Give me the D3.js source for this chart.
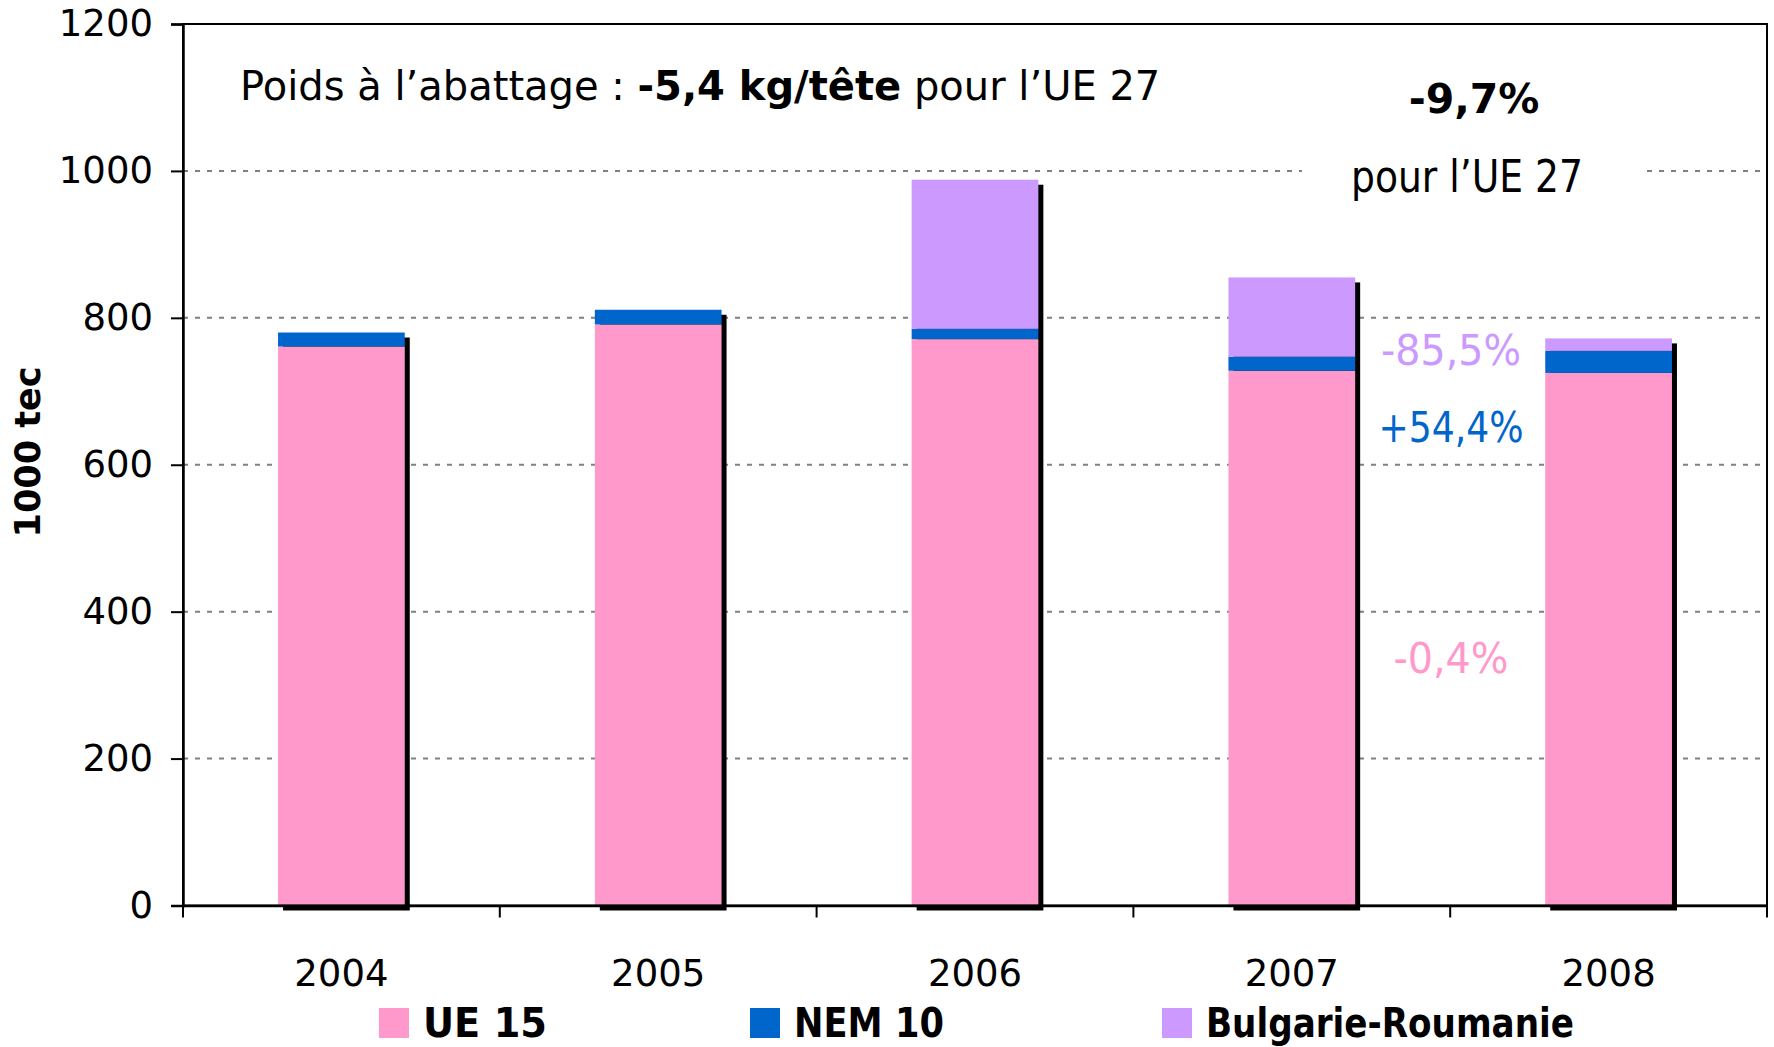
<!DOCTYPE html>
<html>
<head>
<meta charset="utf-8">
<script src="https://cdn.jsdelivr.net/npm/d3@7"></script>
<style>
  body { margin: 0; background: #fff; }
  text { font-family: "Comic Sans MS", "DejaVu Sans", sans-serif; fill: #000; }
</style>
</head>
<body>
<script>
const w = 1774;
const h = 1047;

// data (1000 tec)
const years = ["2004", "2005", "2006", "2007", "2008"];
const ue15 = [761, 791, 771, 728, 725];
const nem10 = [19, 20, 14, 19, 30];
const bulRou = [0, 0, 203, 108, 17];
const yTicks = [0, 200, 400, 600, 800, 1000, 1200];
const seriesNames = ["UE 15", "NEM 10", "Bulgarie-Roumanie"];
const seriesColors = ["#FF99CC", "#0066CC", "#CC99FF"];
const changeLabels = ["-0,4%", "+54,4%", "-85,5%"];

const plotLeft = 183, plotRight = 1767, plotTop = 24, plotBottom = 905.5;

var svg = d3.select("body")
            .append("svg")
            .attr("width", w)
            .attr("height", h);

const xScale = d3.scaleBand()
                 .domain(years)
                 .range([plotLeft, plotRight]);

const yScale = d3.scaleLinear()
                 .domain([0, 1200])
                 .range([plotBottom, plotTop]);

const table = years.map((y, i) => ({ year: y, ue15: ue15[i], nem10: nem10[i], bulRou: bulRou[i] }));
const stack = d3.stack().keys(["ue15", "nem10", "bulRou"])(table);

// gridlines
svg.append("g")
   .selectAll("line")
   .data(yTicks.filter(t => t > 0 && t < 1200))
   .enter()
   .append("line")
   .attr("x1", plotLeft)
   .attr("x2", plotRight)
   .attr("y1", d => yScale(d))
   .attr("y2", d => yScale(d))
   .attr("stroke", "#808080")
   .attr("stroke-width", 2)
   .attr("stroke-dasharray", "5,7");

// white box behind the UE 27 note
svg.append("rect")
   .attr("x", 1302)
   .attr("y", 60)
   .attr("width", 338)
   .attr("height", 140)
   .attr("fill", "#fff");

const barW = xScale.bandwidth() * 0.4;
const barX = d => xScale(d) + (xScale.bandwidth() - barW) / 2;

// shadows
svg.append("g")
   .selectAll("rect")
   .data(table)
   .enter()
   .append("rect")
   .attr("x", d => barX(d.year) + 5)
   .attr("y", d => yScale(d.ue15 + d.nem10 + d.bulRou) + 5)
   .attr("width", barW)
   .attr("height", d => plotBottom - yScale(d.ue15 + d.nem10 + d.bulRou))
   .attr("fill", "#000");

// stacked bars
svg.append("g")
   .selectAll("g")
   .data(stack)
   .enter()
   .append("g")
   .attr("fill", (d, i) => seriesColors[i])
   .selectAll("rect")
   .data(d => d.filter(s => s[1] > s[0]))
   .enter()
   .append("rect")
   .attr("x", d => barX(d.data.year))
   .attr("y", d => yScale(d[1]))
   .attr("width", barW)
   .attr("height", d => yScale(d[0]) - yScale(d[1]));

// frame
svg.append("rect")
   .attr("x", plotLeft)
   .attr("y", plotTop)
   .attr("width", plotRight - plotLeft)
   .attr("height", plotBottom - plotTop)
   .attr("fill", "none")
   .attr("stroke", "#000")
   .attr("stroke-width", 2);

// y axis
const yAxis = d3.axisLeft(yScale)
                .tickValues(yTicks)
                .tickFormat(d3.format("d"))
                .tickSize(12)
                .tickPadding(18);

svg.append("g")
   .attr("transform", "translate(" + plotLeft + ",0)")
   .call(yAxis)
   .call(g => g.select(".domain").attr("stroke-width", 2.5))
   .call(g => g.selectAll(".tick line").attr("stroke-width", 2))
   .call(g => g.selectAll("text")
               .attr("font-family", "\"Comic Sans MS\", \"DejaVu Sans\", sans-serif")
               .attr("font-size", 37));

// x axis
const xAxis = d3.axisBottom(xScale).tickSize(0);

svg.append("g")
   .attr("transform", "translate(0," + plotBottom + ")")
   .call(xAxis)
   .call(g => g.select(".domain").attr("stroke-width", 2.5))
   .call(g => g.selectAll("text")
               .attr("font-family", "\"Comic Sans MS\", \"DejaVu Sans\", sans-serif")
               .attr("font-size", 37)
               .attr("y", 80)
               .attr("dy", 0));

// boundary ticks on the x axis
svg.append("g")
   .selectAll("line")
   .data(years.concat(["end"]))
   .enter()
   .append("line")
   .attr("x1", d => d === "end" ? plotRight : xScale(d))
   .attr("x2", d => d === "end" ? plotRight : xScale(d))
   .attr("y1", plotBottom)
   .attr("y2", plotBottom + 12)
   .attr("stroke", "#000")
   .attr("stroke-width", 2);

// y axis title
svg.append("text")
   .attr("transform", "translate(40,452) rotate(-90)")
   .attr("text-anchor", "middle")
   .attr("font-size", 35)
   .attr("font-weight", "bold")
   .text("1000 tec");

// headline
const head = svg.append("text")
   .attr("x", 240)
   .attr("y", 100)
   .attr("font-size", 40);
head.append("tspan").text("Poids à l’abattage :  ");
head.append("tspan").attr("font-weight", "bold").text("-5,4 kg/tête");
head.append("tspan").text(" pour l’UE 27");

svg.append("text")
   .attr("x", 1474)
   .attr("y", 113)
   .attr("text-anchor", "middle")
   .attr("font-size", 41)
   .attr("font-weight", "bold")
   .text("-9,7%");

svg.append("text")
   .attr("x", 1467)
   .attr("y", 192)
   .attr("text-anchor", "middle")
   .attr("font-size", 44)
   .attr("textLength", 232)
   .attr("lengthAdjust", "spacingAndGlyphs")
   .text("pour l’UE 27");

// change labels between 2007 and 2008
const labelY = [673, 442, 365];
const labelLen = [115, 145, 140];
svg.append("g")
   .selectAll("text")
   .data(changeLabels)
   .enter()
   .append("text")
   .attr("x", 1451)
   .attr("y", (d, i) => labelY[i])
   .attr("text-anchor", "middle")
   .attr("font-size", 42)
   .attr("textLength", (d, i) => labelLen[i])
   .attr("lengthAdjust", "spacingAndGlyphs")
   .style("fill", (d, i) => seriesColors[i])
   .text(d => d);

// legend
const legendX = [379, 750, 1162];
const legend = svg.append("g")
                  .selectAll("g")
                  .data(seriesNames)
                  .enter()
                  .append("g")
                  .attr("transform", (d, i) => "translate(" + legendX[i] + ",1008)");

legend.append("rect")
      .attr("width", 30)
      .attr("height", 30)
      .attr("fill", (d, i) => seriesColors[i]);

const legendLen = [124, 150, 368];
legend.append("text")
      .attr("x", 44)
      .attr("y", 29)
      .attr("font-size", 41)
      .attr("font-weight", "bold")
      .attr("textLength", (d, i) => legendLen[i])
      .attr("lengthAdjust", "spacingAndGlyphs")
      .text(d => d);
</script>
</body>
</html>
